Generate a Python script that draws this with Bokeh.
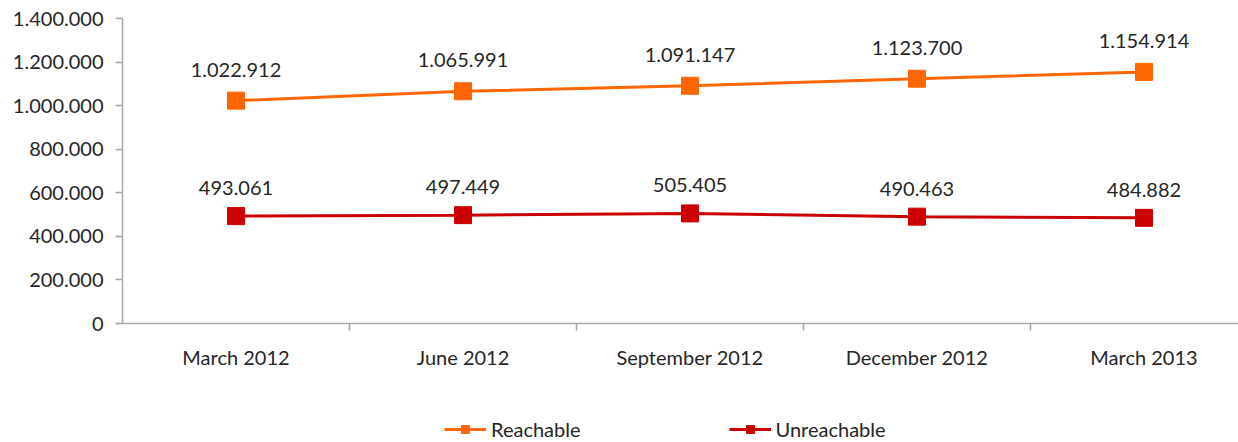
from bokeh.plotting import figure
from bokeh.models import Range1d, FixedTicker, Legend, LegendItem
from bokeh.core.properties import value
from bokeh.embed import file_html
from bokeh.resources import INLINE

categories = ["March 2012", "June 2012", "September 2012", "December 2012", "March 2013"]
reachable = [1022912, 1065991, 1091147, 1123700, 1154914]
unreachable = [493061, 497449, 505405, 490463, 484882]
y_ticks = [0, 200000, 400000, 600000, 800000, 1000000, 1200000, 1400000]
y_tick_labels = ["0", "200.000", "400.000", "600.000", "800.000", "1.000.000", "1.200.000", "1.400.000"]


def fmt(v):
    return f"{v:,}".replace(",", ".")


xs = list(range(len(categories)))

FONT = "Lato"
FS = "20px"
TXT = "#262626"
AX = "#A6A6A6"
ORANGE = "#FF6600"
RED = "#CC0000"

W, H = 1238, 442
left, top = 122, 18
frame_w = W - left
frame_h = H - top
step = 227.0          # px between categories
axis_px = 305.0       # px from 0 to 1.400.000
ymax = y_ticks[-1]
ymin = -(frame_h - axis_px) / axis_px * ymax

p = figure(width=W, height=H, output_backend="svg", toolbar_location=None,
           x_range=Range1d(-0.5, -0.5 + frame_w / step), y_range=Range1d(ymin, ymax),
           min_border_left=left, min_border_right=0, min_border_top=top,
           min_border_bottom=0)
p.outline_line_color = None
p.xgrid.visible = False
p.ygrid.visible = False

l1 = p.line(xs, reachable, line_color=ORANGE, line_width=3)
l2 = p.line(xs, unreachable, line_color=RED, line_width=3)
s1 = p.scatter(xs, reachable, marker="square", size=11, fill_color=ORANGE, line_color=ORANGE)
s2 = p.scatter(xs, unreachable, marker="square", size=11, fill_color=RED, line_color=RED)
p.scatter(xs, reachable, marker="square", size=17, fill_color=ORANGE, line_color=ORANGE)
p.scatter(xs, unreachable, marker="square", size=17, fill_color=RED, line_color=RED)

p.text(x=xs, y=reachable, text=[fmt(v) for v in reachable], text_font=value(FONT),
       text_font_size=FS, text_color=TXT, text_align="center",
       text_baseline="middle", y_offset=-31)
p.text(x=xs, y=unreachable, text=[fmt(v) for v in unreachable], text_font=value(FONT),
       text_font_size=FS, text_color=TXT, text_align="center",
       text_baseline="middle", y_offset=-28)

xa = p.xaxis[0]
xa.fixed_location = 0
xa.ticker = FixedTicker(ticks=xs, minor_ticks=[i + 0.5 for i in xs[:-1]])
xa.major_label_overrides = {i: c for i, c in enumerate(categories)}
xa.major_tick_out = 0
xa.major_tick_in = 0
xa.minor_tick_out = 7
xa.minor_tick_in = 0
xa.minor_tick_line_color = AX
xa.minor_tick_line_width = 1.5
xa.axis_line_color = AX
xa.axis_line_width = 1.5
xa.major_label_text_font = FONT
xa.major_label_text_font_size = FS
xa.major_label_text_color = TXT
xa.major_label_standoff = 14

ya = p.yaxis[0]
ya.bounds = (0, ymax)
ya.ticker = FixedTicker(ticks=y_ticks)
ya.major_label_overrides = {v: s for v, s in zip(y_ticks, y_tick_labels)}
ya.major_tick_out = 7
ya.major_tick_in = 0
ya.major_tick_line_color = AX
ya.major_tick_line_width = 1.5
ya.minor_tick_line_color = None
ya.axis_line_color = AX
ya.axis_line_width = 1.5
ya.major_label_text_font = FONT
ya.major_label_text_font_size = FS
ya.major_label_text_color = TXT
ya.major_label_standoff = 12

legend = Legend(items=[LegendItem(label="Reachable", renderers=[l1, s1]),
                       LegendItem(label="Unreachable", renderers=[l2, s2])],
                orientation="horizontal", location=(322, 1),
                glyph_width=42, glyph_height=20, label_standoff=5, spacing=148,
                padding=0, margin=0, border_line_color=None,
                background_fill_alpha=0, label_text_font=FONT,
                label_text_font_size=FS, label_text_color=TXT)
p.add_layout(legend, "center")

open("out.html", "w").write(file_html(p, INLINE))
